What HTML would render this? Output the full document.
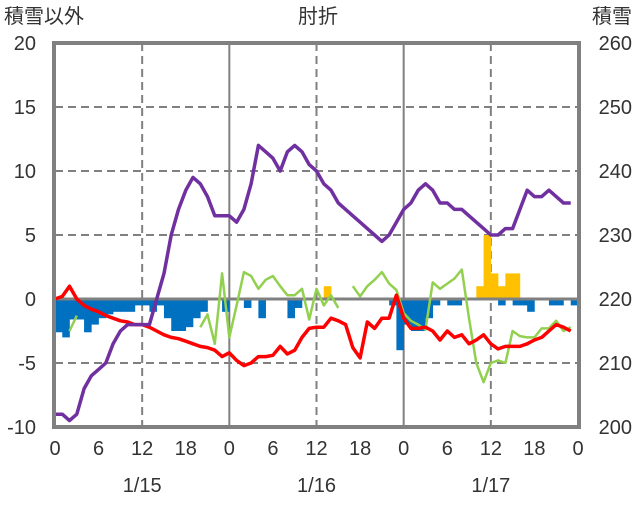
<!DOCTYPE html>
<html><head><meta charset="utf-8"><style>
body{margin:0;background:#fff;}
svg text{font-family:"Liberation Sans","Noto Sans CJK JP",sans-serif;fill:#333;}
</style></head><body>
<svg width="636" height="501" viewBox="0 0 636 501" xmlns="http://www.w3.org/2000/svg">
<g id="grid"></g><g id="bars"></g><g id="lines"></g><g id="axes"></g>
</svg>
<script>
const hours = Array.from({length:72},(_,i)=>i);
const leftTicks = [-10,-5,0,5,10,15,20];
const rightTicks = [200,210,220,230,240,250,260];
const xTickLabels = ['0','6','12','18','0','6','12','18','0','6','12','18','0'];
const dateLabels = ['1/15','1/16','1/17'];
const snowDepth = [-9,-9,-9.5,-9,-7,-6,-5.5,-5,-3.5,-2.5,-2,-2,-2,-2,0,2,5,7,8.5,9.5,9,8,6.5,6.5,6.5,6,7,9,12,11.5,11,10,11.5,12,11.5,10.5,10,9,8.5,7.5,7,6.5,6,5.5,5,4.5,5,6,7,7.5,8.5,9,8.5,7.5,7.5,7,7,6.5,6,5.5,5,5,5.5,5.5,7,8.5,8,8,8.5,8,7.5,7.5].map(v=>220+2*v);
const temp = [0,0.2,1,0,-0.5,-0.8,-1,-1.3,-1.5,-1.7,-1.8,-2,-2,-2.2,-2.5,-2.8,-3,-3.1,-3.3,-3.5,-3.7,-3.8,-4,-4.5,-4.2,-4.8,-5.2,-5,-4.5,-4.5,-4.4,-3.7,-4.3,-4,-3,-2.3,-2.2,-2.2,-1.5,-1.7,-2,-3.8,-4.6,-1.8,-2.3,-1.5,-1.5,0.3,-1.5,-2.3,-2.3,-2.2,-2.5,-3.2,-2.5,-3,-2.8,-3.5,-3.2,-2.8,-3.5,-3.9,-3.7,-3.7,-3.7,-3.5,-3.2,-3,-2.5,-2,-2.2,-2.5];
const green = [null,null,-2.5,-1.3,null,null,null,null,null,null,null,null,null,null,null,null,null,null,null,null,-2.2,-1.2,-3.5,2,-3,-0.5,2.1,1.8,0.8,1.5,1.8,1,0.3,0.3,0.8,-1.6,0.8,-0.5,0.3,-0.7,null,1,0.2,1,1.5,2.1,1.2,0.7,-1.1,-1.7,-2,-2.4,1.3,0.8,1.2,1.6,2.3,-1.5,-5,-6.5,-5,-4.8,-5,-2.5,-2.9,-3,-3,-2.3,-2.3,-1.7,-2.5,-2.2];
const blueBars = [-2.6,-3,-1.6,-1.6,-2.6,-2,-1.5,-1.2,-1,-1,-1,-0.5,-0.5,-1,-0.5,-1.5,-2.5,-2.5,-2.2,-1.5,-1,0,0,-1,0,0,-0.7,0,-1.5,0,0,0,-1.5,-0.7,0,0,0,0,0,0,0,0,0,0,0,0,-0.5,-4,-2,-2.5,-2.5,-1.5,-0.5,0,-0.5,-0.5,0,0,0,0,0,-0.5,0,-0.5,-0.5,-1,0,0,-0.5,-0.5,0,-0.5];
const yellowBars = [0,0,0,0,0,0,0,0,0,0,0,0,0,0,0,0,0,0,0,0,0,0,0,0,0,0,0,0,0,0,0,0,0,0,0,0,0,1,0,0,0,0,0,0,0,0,0,0,0,0,0,0,0,0,0,0,0,0,1,5,2,1,2,2,0,0,0,0,0,0,0,0];

const X0=55,X1=578,Y0=43,Y1=427;
const xs=h=>X0+(X1-X0)*h/72;
const yl=v=>Y1-(v+10)/30*(Y1-Y0);
const yr=v=>Y1-(v-200)/60*(Y1-Y0);
const NS='http://www.w3.org/2000/svg';
function mk(tag,attrs,parent){const e=document.createElementNS(NS,tag);for(const k in attrs)e.setAttribute(k,attrs[k]);document.getElementById(parent).appendChild(e);return e;}

[-5,5,10,15].forEach(v=>{const l=mk('line',{x1:X0,x2:X1,y1:yl(v),y2:yl(v),stroke:'#808080','stroke-width':2,'stroke-dasharray':'8,5'},'grid');

});
[12,36,60].forEach(h=>{const l=mk('line',{x1:xs(h),x2:xs(h),y1:Y0,y2:Y1,stroke:'#808080','stroke-width':2,'stroke-dasharray':'8,5'},'grid');

});
[24,48].forEach(h=>{const l=mk('line',{x1:xs(h),x2:xs(h),y1:Y0,y2:Y1,stroke:'#808080','stroke-width':2},'grid');

});

const bw=(X1-X0)/72;
hours.forEach(h=>{
 const b=blueBars[h];
 if(b<0){const r=mk('rect',{x:xs(h),y:yl(0),width:bw+0.3,height:yl(b)-yl(0),fill:'#0070c0'},'bars');
 
 }
 const y=yellowBars[h];
 if(y>0){const r=mk('rect',{x:xs(h),y:yl(y),width:bw+0.3,height:yl(0)-yl(y),fill:'#ffc000'},'bars');
 
 }
});
const zl=mk('line',{x1:X0,x2:X1,y1:yl(0),y2:yl(0),stroke:'#808080','stroke-width':3},'bars');



function path(arr,yf){let d='',pen=false;arr.forEach((v,i)=>{if(v===null){pen=false;return;}d+=(pen?'L':'M')+xs(i).toFixed(1)+','+yf(v).toFixed(1);pen=true;});return d;}
const g=mk('path',{d:path(green,yl),fill:'none',stroke:'#92d050','stroke-width':2.5,'stroke-linejoin':'round'},'lines');


const r=mk('path',{d:path(temp,yl),fill:'none',stroke:'#ff0000','stroke-width':3.5,'stroke-linejoin':'round'},'lines');


const p=mk('path',{d:path(snowDepth,yr),fill:'none',stroke:'#7030a0','stroke-width':3.5,'stroke-linejoin':'round'},'lines');



const fr=mk('rect',{x:X0-1,y:Y0,width:X1-X0+2,height:Y1-Y0,fill:'none',stroke:'#808080','stroke-width':4},'axes');


leftTicks.forEach(v=>{const t=mk('text',{x:36,y:yl(v)+7,'text-anchor':'end','font-size':20},'axes');t.textContent=v;

});
rightTicks.forEach(v=>{const t=mk('text',{x:632,y:yr(v)+7,'text-anchor':'end','font-size':20},'axes');t.textContent=v;

});
xTickLabels.forEach((s,i)=>{const t=mk('text',{x:xs(i*6),y:455,'text-anchor':'middle','font-size':20},'axes');t.textContent=s;

});
dateLabels.forEach((s,i)=>{const t=mk('text',{x:xs(12+24*i),y:492,'text-anchor':'middle','font-size':20},'axes');t.textContent=s;

});
[['積雪以外',4,'start','left-axis-title'],['肘折',318,'middle','chart-title'],['積雪',632,'end','right-axis-title']].forEach(a=>{
 const t=mk('text',{x:a[1],y:23,'text-anchor':a[2],'font-size':20},'axes');t.textContent=a[0];
 
 });
</script>
</body></html>
